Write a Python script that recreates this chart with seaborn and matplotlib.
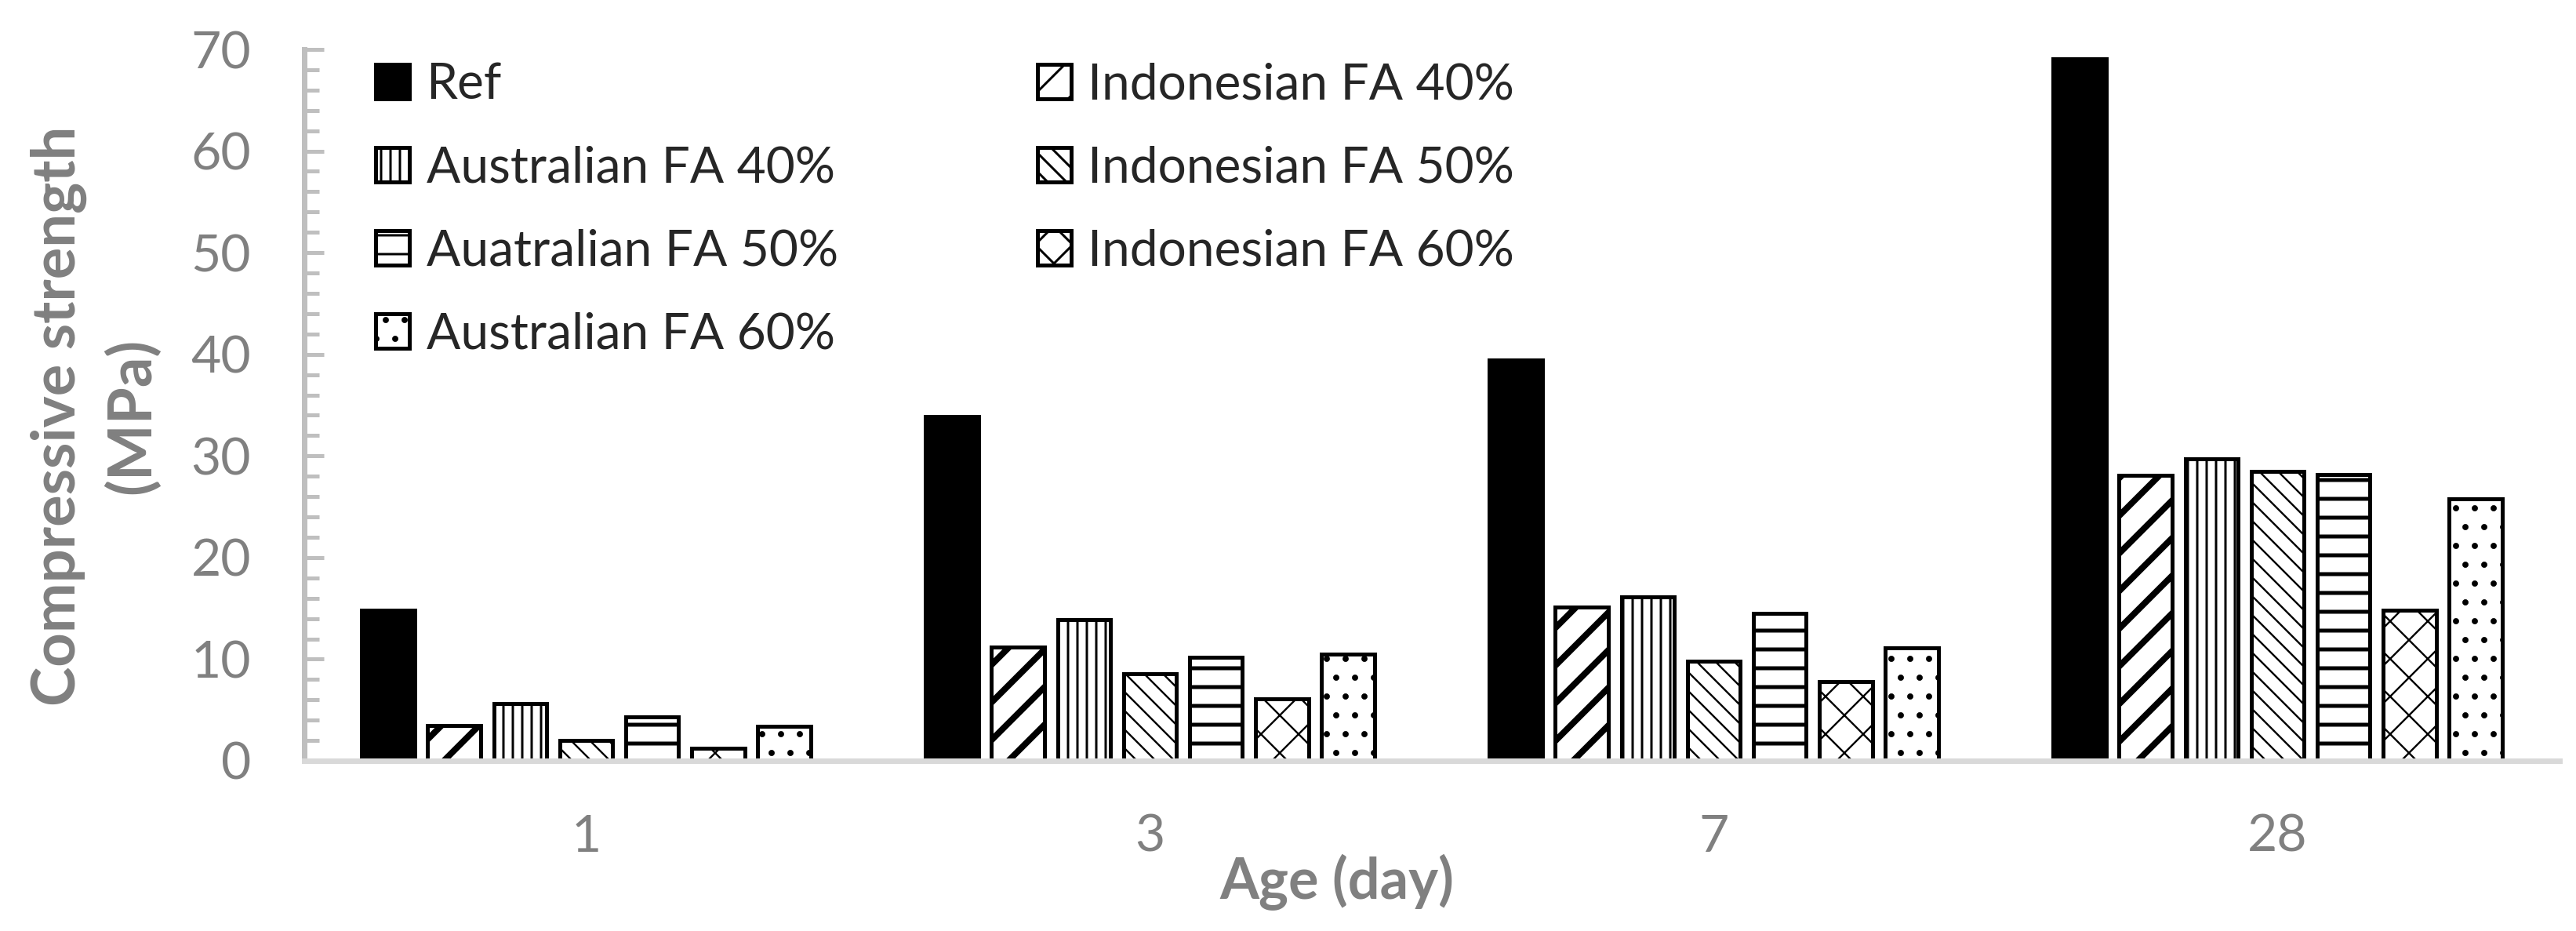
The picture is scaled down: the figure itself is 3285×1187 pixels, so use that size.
import pandas as pd
import numpy as np
import matplotlib
import matplotlib.pyplot as plt
from matplotlib.ticker import MultipleLocator
import seaborn as sns

# data
ages = ['1', '3', '7', '28']
mixes = ['Ref', 'Indonesian FA 40%', 'Australian FA 40%', 'Indonesian FA 50%',
         'Auatralian FA 50%', 'Indonesian FA 60%', 'Australian FA 60%']
ref = [14.8, 33.9, 39.4, 69.1]
indo_40 = [3.5, 11.2, 15.1, 28.1]
aus_40 = [5.6, 13.9, 16.1, 29.7]
indo_50 = [2.0, 8.6, 9.8, 28.5]
aus_50 = [4.3, 10.2, 14.5, 28.2]
indo_60 = [1.2, 6.1, 7.8, 14.8]
aus_60 = [3.4, 10.5, 11.1, 25.8]

series = [ref, indo_40, aus_40, indo_50, aus_50, indo_60, aus_60]
df = pd.DataFrame({
    'age': np.tile(ages, len(mixes)),
    'mix': np.repeat(mixes, len(ages)),
    'strength': np.concatenate(series),
})

sns.set_style('white')
plt.rcParams['font.family'] = ['Lato', 'DejaVu Sans']
plt.rcParams['hatch.linewidth'] = 1.5
plt.rcParams['hatch.color'] = 'black'

grey = '#808080'
fig = plt.figure(figsize=(3285 / 144, 1187 / 144), dpi=144)
ax = fig.add_axes([388 / 3285, 1 - 970 / 1187, 2876 / 3285, 907 / 1187])

palette = {m: 'white' for m in mixes}
palette['Ref'] = 'black'
sns.barplot(data=df, x='age', y='strength', hue='mix', order=ages, hue_order=mixes,
            palette=palette, width=0.82, gap=0.2, edgecolor='black', linewidth=2.5,
            legend=False, ax=ax)

hatches = [None, '/', '||', '\\\\', '-', 'x', '.']
hatch_lw = [1, 4.0, 1.5, 1.2, 2.5, 1.2, 1.5]
for cont, h, lw in zip(ax.containers, hatches, hatch_lw):
    for p in cont:
        if h:
            p.set_hatch(h)
        if hasattr(p, 'set_hatch_linewidth'):
            p.set_hatch_linewidth(lw)

# legend: Excel fills rows, so build the two columns separately
leg_kw = dict(loc='upper left', frameon=False, fontsize=32, handlelength=0.68,
              handleheight=0.68, handletextpad=0.33, labelspacing=0.75,
              borderaxespad=0, borderpad=0)
col1 = [0, 2, 4, 6]
col2 = [1, 3, 5]
leg1 = ax.legend([ax.containers[i][0] for i in col1], [mixes[i] for i in col1],
                 bbox_to_anchor=(0.0316, 0.982), **leg_kw)
ax.add_artist(leg1)
ax.legend([ax.containers[i][0] for i in col2], [mixes[i] for i in col2],
          bbox_to_anchor=(0.325, 0.982), **leg_kw)

ax.set_ylim(0, 70)
ax.set_xlim(-0.5, 3.5)
ax.yaxis.set_major_locator(MultipleLocator(10))
ax.yaxis.set_minor_locator(MultipleLocator(2))
ax.tick_params(axis='y', which='major', direction='in', length=12.5, width=2.5,
               color='#BFBFBF', labelsize=33, labelcolor=grey, pad=34, left=True)
ax.tick_params(axis='y', which='minor', direction='in', length=9.5, width=2.5,
               color='#BFBFBF', left=True)
ax.tick_params(axis='x', length=0, labelsize=33, labelcolor=grey, pad=34)

for s in ['top', 'right']:
    ax.spines[s].set_visible(False)
ax.spines['left'].set_color('#BFBFBF')
ax.spines['left'].set_linewidth(3.5)
ax.spines['bottom'].set_color('#D9D9D9')
ax.spines['bottom'].set_linewidth(3.5)

ax.set_xlabel('Age (day)', fontsize=36, fontweight='bold', color=grey, labelpad=0)
ax.set_ylabel('Compressive strength\n(MPa)', fontsize=38, fontweight='bold', color=grey,
              linespacing=1.35)
ax.yaxis.label.set_va('center')
ax.xaxis.label.set_va('baseline')
ax.yaxis.set_label_coords(-0.0928, 0.485)
ax.xaxis.set_label_coords(0.458, -0.194)

plt.savefig('out.png', dpi=144)
plt.close()
